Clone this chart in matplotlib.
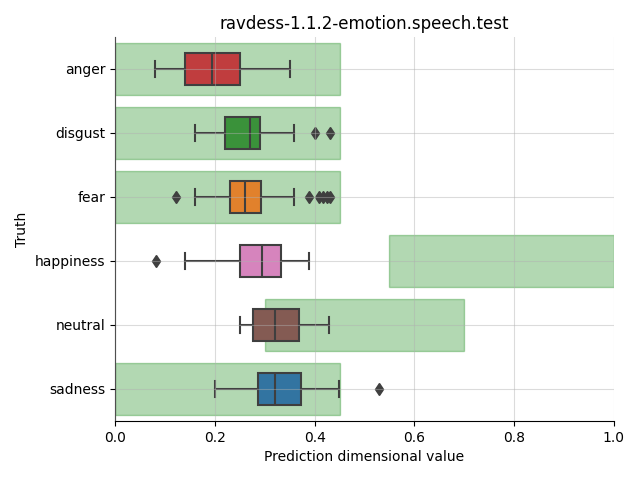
import matplotlib
matplotlib.use("Agg")
import matplotlib.pyplot as plt
import seaborn as sns

emotions = ["anger", "disgust", "fear", "happiness", "neutral", "sadness"]
colors = ["tab:red", "tab:green", "tab:orange", "tab:pink", "tab:brown", "tab:blue"]

# box stats: whisker low, q1, median, q3, whisker high
whislo = [0.080, 0.160, 0.160, 0.140, 0.250, 0.200]
q1 = [0.140, 0.220, 0.230, 0.250, 0.276, 0.286]
med = [0.194, 0.270, 0.260, 0.295, 0.321, 0.321]
q3 = [0.251, 0.291, 0.293, 0.333, 0.369, 0.373]
whishi = [0.351, 0.358, 0.358, 0.389, 0.429, 0.449]
fliers = [
    [],
    [0.400, 0.430],
    [0.122, 0.389, 0.409, 0.417, 0.425, 0.431],
    [0.082],
    [],
    [0.530],
]

# expected range for each emotion (green bands)
range_lo = [0.0, 0.0, 0.0, 0.55, 0.30, 0.0]
range_hi = [0.45, 0.45, 0.45, 1.0, 0.70, 0.45]

fig, ax = plt.subplots(figsize=(6.4, 4.8), dpi=100)
plt.subplots_adjust(left=0.18, right=0.959, top=0.923, bottom=0.123)

pos = list(range(len(emotions)))
widths = [h - l for l, h in zip(range_lo, range_hi)]
ax.barh(pos, widths, left=range_lo, height=0.8, color="green", alpha=0.3,
        edgecolor="green", linewidth=1, zorder=1)

stats = []
for i in range(len(emotions)):
    stats.append(dict(whislo=whislo[i], q1=q1[i], med=med[i], q3=q3[i],
                      whishi=whishi[i], fliers=fliers[i]))

gray = "#3f3f3f"
bp = ax.bxp(stats, positions=pos, vert=False, widths=0.5, patch_artist=True,
            boxprops=dict(edgecolor=gray, linewidth=1.5),
            medianprops=dict(color=gray, linewidth=1.5),
            whiskerprops=dict(color=gray, linewidth=1.5),
            capprops=dict(color=gray, linewidth=1.5),
            flierprops=dict(marker="d", markerfacecolor=gray, markeredgecolor=gray,
                            markersize=6),
            manage_ticks=False, zorder=2)
for patch, c in zip(bp["boxes"], colors):
    patch.set_facecolor(sns.desaturate(c, 0.75))

ax.set_axisbelow(False)
ax.grid(True, color="#b0b0b0", alpha=0.45, linewidth=0.8, zorder=2.5)
ax.set_yticks(pos)
ax.set_yticklabels(emotions)
ax.set_ylim(5.5, -0.5)
ax.set_xlim(0, 1)
ax.spines["top"].set_visible(False)
ax.spines["right"].set_visible(False)
ax.set_xlabel("Prediction dimensional value")
ax.set_ylabel("Truth")
ax.set_title("ravdess-1.1.2-emotion.speech.test")

plt.savefig("out.png")
